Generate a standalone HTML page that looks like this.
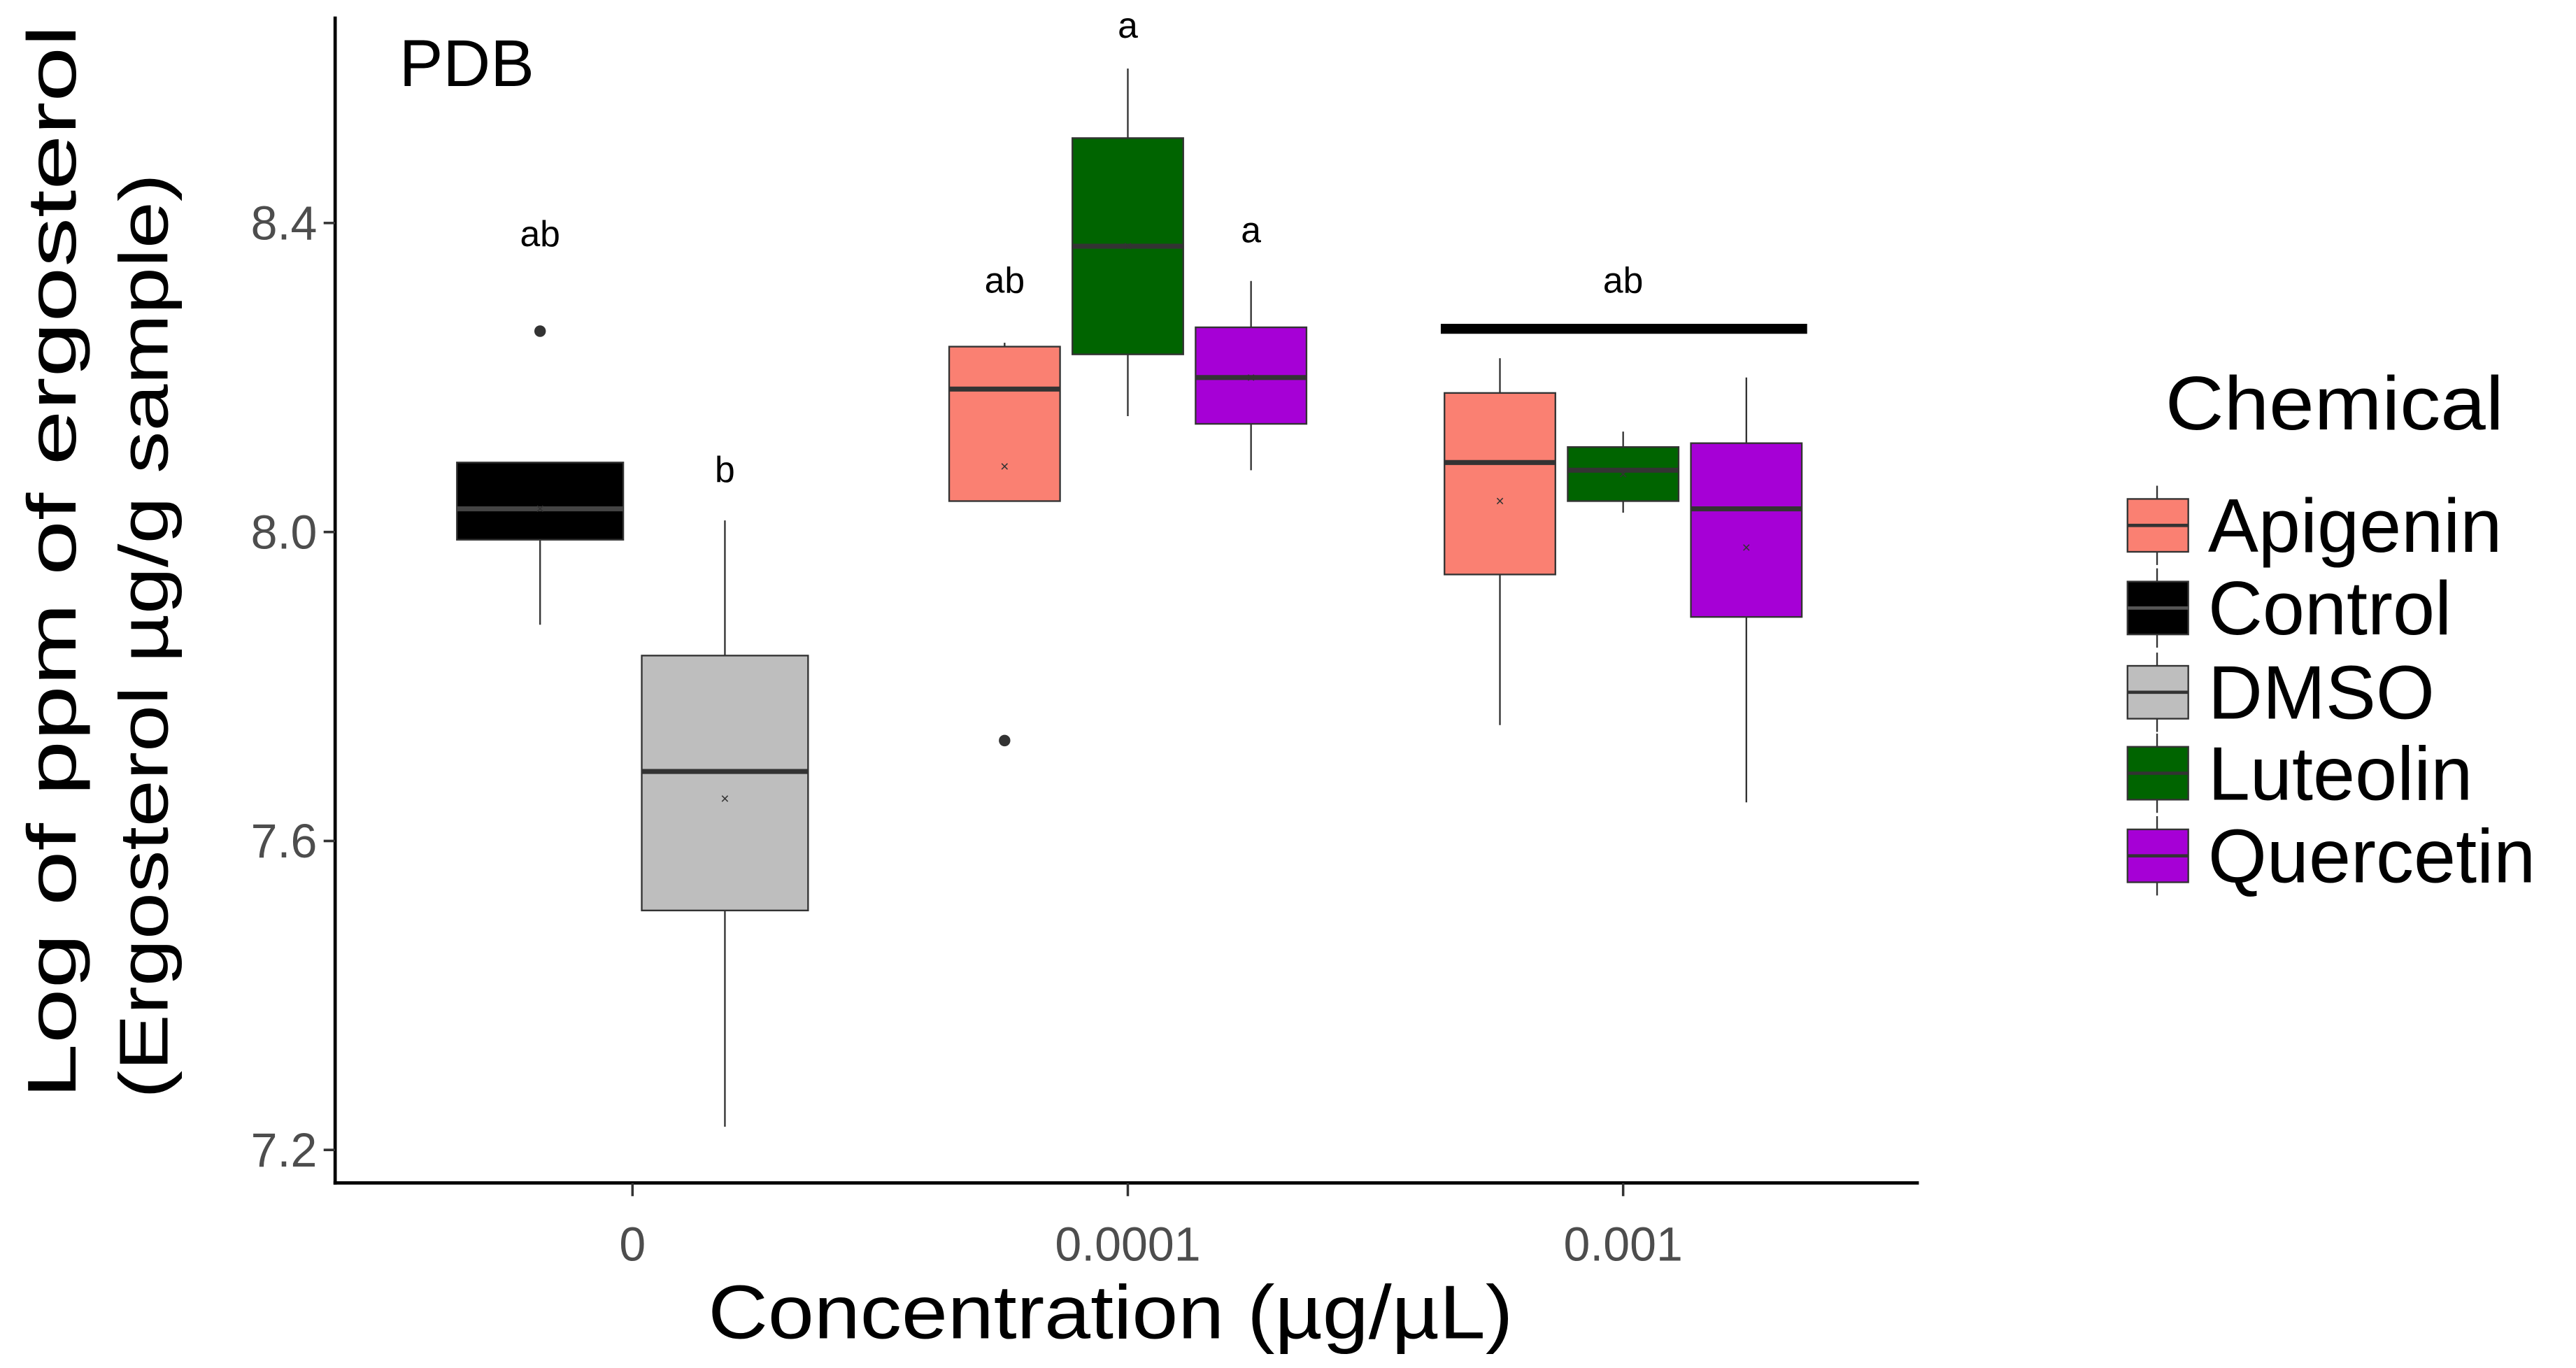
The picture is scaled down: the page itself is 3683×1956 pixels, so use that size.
<!DOCTYPE html>
<html><head><meta charset="utf-8"><style>html,body{margin:0;padding:0;background:#fff}svg{display:block}</style></head>
<body>
<svg id="chart" width="3683" height="1956" viewBox="0 0 1568 828" preserveAspectRatio="none" xmlns="http://www.w3.org/2000/svg" font-family="Liberation Sans, sans-serif">
<text x="243" y="52" font-size="40">PDB</text>
<g id="plot"></g>
<line x1="204" y1="10" x2="204" y2="717" stroke="#000" stroke-width="2"/>
<line x1="203" y1="716" x2="1168" y2="716" stroke="#000" stroke-width="2"/>
<g id="axes"></g>
<text transform="translate(46,340) rotate(-90)" text-anchor="middle" font-size="42" textLength="650" lengthAdjust="spacingAndGlyphs">Log of  ppm of ergosterol</text>
<text transform="translate(102,385) rotate(-90)" text-anchor="middle" font-size="42" textLength="560" lengthAdjust="spacingAndGlyphs">(Ergosterol µg/g sample)</text>
<text x="676" y="810" text-anchor="middle" font-size="46" textLength="490" lengthAdjust="spacingAndGlyphs">Concentration (µg/µL)</text>
<text x="1318" y="260" font-size="46" textLength="206" lengthAdjust="spacingAndGlyphs">Chemical</text>
<g id="legend"></g>
</svg>
<script>
const groups = ["0", "0.0001", "0.001"];
const yTicks = [7.2, 7.6, 8.0, 8.4];
const chemNames = ["Apigenin", "Control", "DMSO", "Luteolin", "Quercetin"];
const chemColors = ["#fa8072", "#000000", "#bebebe", "#006400", "#a600d6"];
const boxGroup = [0, 0, 1, 1, 1, 2, 2, 2];
const boxChem  = [1, 2, 0, 3, 4, 0, 3, 4];
const boxSlot  = [0, 1, 0, 1, 2, 0, 1, 2];
const boxN     = [2, 2, 3, 3, 3, 3, 3, 3];
const lowW   = [7.88, 7.23, 8.04, 8.15, 8.08, 7.75, 8.025, 7.65];
const q1     = [7.99, 7.51, 8.04, 8.23, 8.14, 7.945, 8.04, 7.89];
const median = [8.03, 7.69, 8.185, 8.37, 8.2, 8.09, 8.08, 8.03];
const q3     = [8.09, 7.84, 8.24, 8.51, 8.265, 8.18, 8.11, 8.115];
const highW  = [8.09, 8.015, 8.245, 8.6, 8.325, 8.225, 8.13, 8.2];
const means  = [8.03, 7.655, 8.085, 8.37, 8.2, 8.04, 8.075, 7.98];
const outliers = [[8.26], [], [7.73], [], [], [], [], []];
const letters = ["ab", "b", "ab", "a", "a", "ab"];
const letterVals = [8.37, 8.065, 8.31, 8.64, 8.375, 8.31];
const letterBox = [0, 1, 2, 3, 4, 6];

const NS = "http://www.w3.org/2000/svg";
function y(v){ return 322 - (v - 8.0) * 467.5; }
function xg(i){ return 385 + i * 301.5; }
function xBox(k){ const w = 225 / boxN[k]; return xg(boxGroup[k]) - 112.5 + w * (boxSlot[k] + 0.5); }
function mk(tag, attrs, parent){ const e = document.createElementNS(NS, tag); for (const a in attrs) e.setAttribute(a, attrs[a]); parent.appendChild(e); return e; }
const plot = document.getElementById("plot");
const axes = document.getElementById("axes");

yTicks.forEach((t) => {
  const tl = mk("line", {x1:197, x2:204, y1:y(t), y2:y(t), stroke:"#333", "stroke-width":1.5}, axes);
  
  
  const tx = mk("text", {x:193, y:y(t)+10, "text-anchor":"end", "font-size":29, fill:"#4d4d4d"}, axes);
  tx.textContent = t.toFixed(1);
  
  
});
groups.forEach((g, i) => {
  const tl = mk("line", {x1:xg(i), x2:xg(i), y1:716, y2:724, stroke:"#333", "stroke-width":1.5}, axes);
  
  
  const tx = mk("text", {x:xg(i), y:763, "text-anchor":"middle", "font-size":29, fill:"#4d4d4d"}, axes);
  tx.textContent = g;
  
  
});

for (let k = 0; k < boxGroup.length; k++) {
  const cx = xBox(k), bw = (225 / boxN[k]) * 0.9;
  const g = mk("g", {}, plot);
  
  
  mk("line", {x1:cx, x2:cx, y1:y(highW[k]), y2:y(q3[k]), stroke:"#333", "stroke-width":1}, g);
  mk("line", {x1:cx, x2:cx, y1:y(q1[k]), y2:y(lowW[k]), stroke:"#333", "stroke-width":1}, g);
  mk("rect", {x:cx-bw/2, y:y(q3[k]), width:bw, height:y(q1[k])-y(q3[k]), fill:chemColors[boxChem[k]], stroke:"#333", "stroke-width":1}, g);
  mk("line", {x1:cx-bw/2, x2:cx+bw/2, y1:y(median[k]), y2:y(median[k]), stroke:boxChem[k]===1?"#444":"#333", "stroke-width":3}, g);
  const mt = mk("text", {x:cx, y:y(means[k])+3, "text-anchor":"middle", "font-size":9, fill:"#333"}, g);
  mt.textContent = "×";
  outliers[k].forEach(o => { mk("circle", {cx:cx, cy:y(o), r:3.5, fill:"#333"}, g); });
}
letters.forEach((L, i) => {
  const tx = mk("text", {x:xBox(letterBox[i]), y:y(letterVals[i]), "text-anchor":"middle", "font-size":22}, plot);
  tx.textContent = L;
  
  
});
const bar = mk("line", {x1:877, x2:1100, y1:199, y2:199, stroke:"#000", "stroke-width":6}, plot);



const leg = document.getElementById("legend");
const rowY = [318, 368, 419, 468, 518];
chemNames.forEach((n, i) => {
  const g = mk("g", {}, leg);
  
  
  const cy = rowY[i];
  mk("line", {x1:1313, x2:1313, y1:cy-24, y2:cy+24, stroke:"#333", "stroke-width":1}, g);
  mk("rect", {x:1295, y:cy-16, width:37, height:32, fill:chemColors[i], stroke:"#333", "stroke-width":1}, g);
  mk("line", {x1:1295, x2:1332, y1:cy, y2:cy, stroke:i===1?"#555":"#333", "stroke-width":2}, g);
  const tx = mk("text", {x:1344, y:cy+16, "font-size":46}, g);
  tx.textContent = n;
});
</script>
</body></html>
